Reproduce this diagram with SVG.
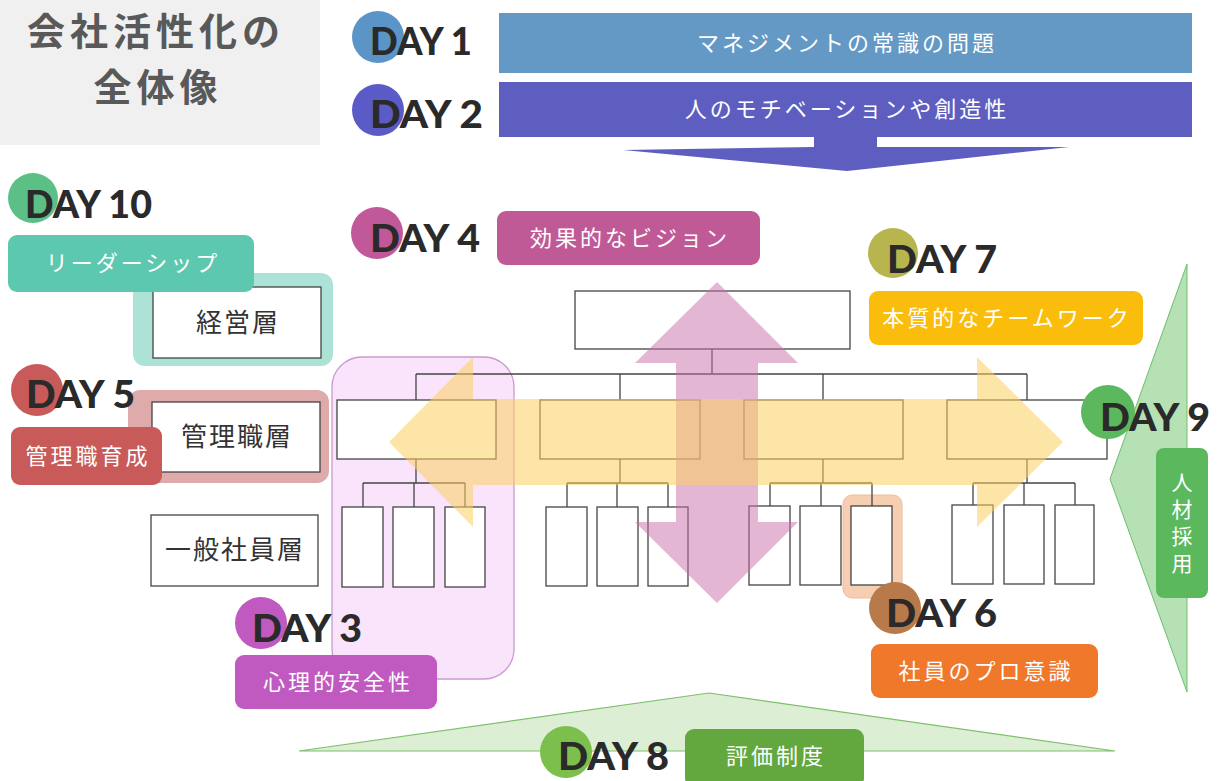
<svg xmlns="http://www.w3.org/2000/svg" width="1223" height="781" viewBox="0 0 1223 781">
<style>
.day{font-family:Lato,"Liberation Sans",sans-serif;font-weight:900;font-size:37px;fill:#2a2a2a}
.lbl{font-family:"Noto Sans CJK JP",sans-serif;font-size:22px;fill:#ffffff;letter-spacing:3px;text-anchor:middle}
.lvl{font-family:"Noto Sans CJK JP",sans-serif;font-size:26px;fill:#333333;letter-spacing:2px;text-anchor:middle}
.ttl{font-family:"Noto Sans CJK JP",sans-serif;font-size:38px;font-weight:700;fill:#595959;text-anchor:middle;letter-spacing:5px}
.box{fill:#ffffff;stroke:#444444;stroke-width:1.3}
.ln{fill:none;stroke:#444444;stroke-width:1.3}
</style>
<rect width="1223" height="781" fill="#ffffff"/>

<g id="title">
<rect x="0" y="0" width="320" height="145" fill="#f0f0f0"/>
<text class="ttl" x="156" y="45">会社活性化の</text>
<text class="ttl" x="158" y="101">全体像</text>
</g>

<g id="day1">
<circle cx="378" cy="37" r="26" fill="#5b95c8"/>
<text class="day" x="370" y="55" textLength="102" lengthAdjust="spacingAndGlyphs">DAY 1</text>
<rect x="499" y="13" width="693" height="60" fill="#6399c4"/>
<text class="lbl" x="847" y="51">マネジメントの常識の問題</text>
</g>

<g id="day2">
<circle cx="378" cy="110" r="26" fill="#5b5bc8"/>
<text class="day" x="370" y="128" textLength="113" lengthAdjust="spacingAndGlyphs">DAY 2</text>
<rect x="499" y="82" width="693" height="55" fill="#5e5ec0"/>
<text class="lbl" x="847" y="117">人のモチベーションや創造性</text>
<polygon points="814,137 877,137 877,147 1069,147 847,171 623,150 814,147" fill="#5e5ec0"/>
</g>

<g id="day3-area">
<rect x="332" y="357" width="182" height="322" rx="30" fill="#f9e4fb" stroke="#c89ad0" stroke-width="1.3"/>
</g>

<g id="day10-area">
<rect x="133" y="273" width="200" height="93" rx="12" fill="#ade3d7"/>
</g>
<g id="day5-area">
<rect x="128" y="390" width="201" height="93" rx="12" fill="#dfaaaa"/>
</g>
<g id="day6-area">
<rect x="843" y="495" width="59" height="103" rx="9" fill="#f6cfb3" stroke="#f0bc98" stroke-width="1"/>
</g>

<g id="level-keiei">
<rect class="box" x="153" y="287" width="168" height="71"/>
<text class="lvl" x="238" y="332">経営層</text>
</g>
<g id="level-kanri">
<rect class="box" x="152" y="402" width="168" height="70"/>
<text class="lvl" x="237" y="446">管理職層</text>
</g>
<g id="level-ippan">
<rect class="box" x="151" y="515" width="167" height="71"/>
<text class="lvl" x="235" y="559">一般社員層</text>
</g>

<g id="connectors">
<path class="ln" d="M712,349 V374 M416,374 H1027 M416,374 V400 M620,374 V400 M823,374 V400 M1027,374 V400"/>
<path class="ln" d="M416,459 V483 M363,483 H465 M363,483 V507 M414,483 V507 M465,483 V507"/>
<path class="ln" d="M620,459 V483 M567,483 H668 M567,483 V507 M617,483 V507 M668,483 V507"/>
<path class="ln" d="M823,459 V483 M770,483 H872 M770,483 V506 M821,483 V506 M872,483 V506"/>
<path class="ln" d="M1027,459 V483 M973,483 H1075 M973,483 V505 M1024,483 V505 M1075,483 V505"/>
</g>

<g id="org-top"><rect class="box" x="575" y="291" width="275" height="58"/></g>
<g id="org-mid">
<rect class="box" x="337" y="400" width="159" height="59"/>
<rect class="box" x="540" y="400" width="160" height="59"/>
<rect class="box" x="744" y="400" width="159" height="59"/>
<rect class="box" x="947" y="400" width="160" height="59"/>
</g>
<g id="org-leaves">
<rect class="box" x="342" y="507" width="41" height="80"/>
<rect class="box" x="393" y="507" width="41" height="80"/>
<rect class="box" x="445" y="507" width="40" height="80"/>
<rect class="box" x="546" y="507" width="41" height="79"/>
<rect class="box" x="597" y="507" width="41" height="79"/>
<rect class="box" x="648" y="507" width="40" height="79"/>
<rect class="box" x="749" y="506" width="41" height="79"/>
<rect class="box" x="800" y="506" width="41" height="79"/>
<rect class="box" x="851" y="506" width="41" height="79"/>
<rect class="box" x="952" y="505" width="41" height="79"/>
<rect class="box" x="1004" y="505" width="40" height="79"/>
<rect class="box" x="1055" y="505" width="39" height="79"/>
</g>

<g id="vision-arrow">
<polygon points="717,282 798,363 758,363 758,522 798,522 717,603 635,522 676,522 676,363 635,363" fill="#c870aa" fill-opacity="0.5"/>
</g>
<g id="teamwork-arrow">
<polygon points="389,442 473,357 473,399 977,399 977,357 1063,442 977,527 977,485 473,485 473,527" fill="#fbd060" fill-opacity="0.55"/>
</g>

<g id="day9">
<polygon points="1187,264 1110,479 1187,692" fill="#a8dca8" fill-opacity="0.85" stroke="#6cbf6c" stroke-width="1"/>
<circle cx="1108" cy="412" r="27" fill="#5cb85c"/>
<text class="day" x="1100" y="431" textLength="110" lengthAdjust="spacingAndGlyphs">DAY 9</text>
<rect x="1156" y="448" width="52" height="150" rx="8" fill="#5cb85c"/>
<text x="1182" y="472" writing-mode="vertical-rl" font-family="'Noto Sans CJK JP',sans-serif" font-size="21" fill="#ffffff" letter-spacing="6">人材採用</text>
</g>

<g id="day10">
<circle cx="33" cy="198" r="25" fill="#5cbf85"/>
<text class="day" x="25" y="218" textLength="127" lengthAdjust="spacingAndGlyphs">DAY 10</text>
<rect x="8" y="235" width="246" height="57" rx="9" fill="#5cc8b0"/>
<text class="lbl" x="133" y="271">リーダーシップ</text>
</g>

<g id="day4">
<circle cx="377" cy="233" r="26" fill="#c0589a"/>
<text class="day" x="370" y="252" textLength="110" lengthAdjust="spacingAndGlyphs">DAY 4</text>
<rect x="497" y="211" width="263" height="54" rx="9" fill="#c05a96"/>
<text class="lbl" x="630" y="246">効果的なビジョン</text>
</g>

<g id="day7">
<circle cx="893" cy="253" r="25" fill="#b8b54e"/>
<text class="day" x="887" y="273" textLength="110" lengthAdjust="spacingAndGlyphs">DAY 7</text>
<rect x="869" y="291" width="274" height="54" rx="9" fill="#fbbd0c"/>
<text class="lbl" x="1007" y="326">本質的なチームワーク</text>
</g>

<g id="day5">
<circle cx="37" cy="390" r="26" fill="#c85a5a"/>
<text class="day" x="26" y="408" textLength="109" lengthAdjust="spacingAndGlyphs">DAY 5</text>
<rect x="11" y="427" width="151" height="58" rx="9" fill="#c85a5a"/>
<text class="lbl" x="88" y="464">管理職育成</text>
</g>

<g id="day3">
<circle cx="261" cy="623" r="26" fill="#c05ac0"/>
<text class="day" x="252" y="642" textLength="110" lengthAdjust="spacingAndGlyphs">DAY 3</text>
<rect x="235" y="655" width="202" height="54" rx="9" fill="#c05ac0"/>
<text class="lbl" x="338" y="690">心理的安全性</text>
</g>

<g id="day6">
<circle cx="895" cy="608" r="26" fill="#b87a4a"/>
<text class="day" x="886" y="627" textLength="111" lengthAdjust="spacingAndGlyphs">DAY 6</text>
<rect x="871" y="644" width="227" height="54" rx="9" fill="#f0782a"/>
<text class="lbl" x="986" y="679">社員のプロ意識</text>
</g>

<g id="day8">
<polygon points="299,751 709,693 1115,751" fill="#dcefd4" stroke="#7fbf6f" stroke-width="1.2"/>
<circle cx="566" cy="752" r="26" fill="#7cbf4c"/>
<text class="day" x="558" y="770" textLength="111" lengthAdjust="spacingAndGlyphs">DAY 8</text>
<rect x="685" y="729" width="179" height="58" rx="9" fill="#63a83f"/>
<text class="lbl" x="776" y="764">評価制度</text>
</g>
</svg>
